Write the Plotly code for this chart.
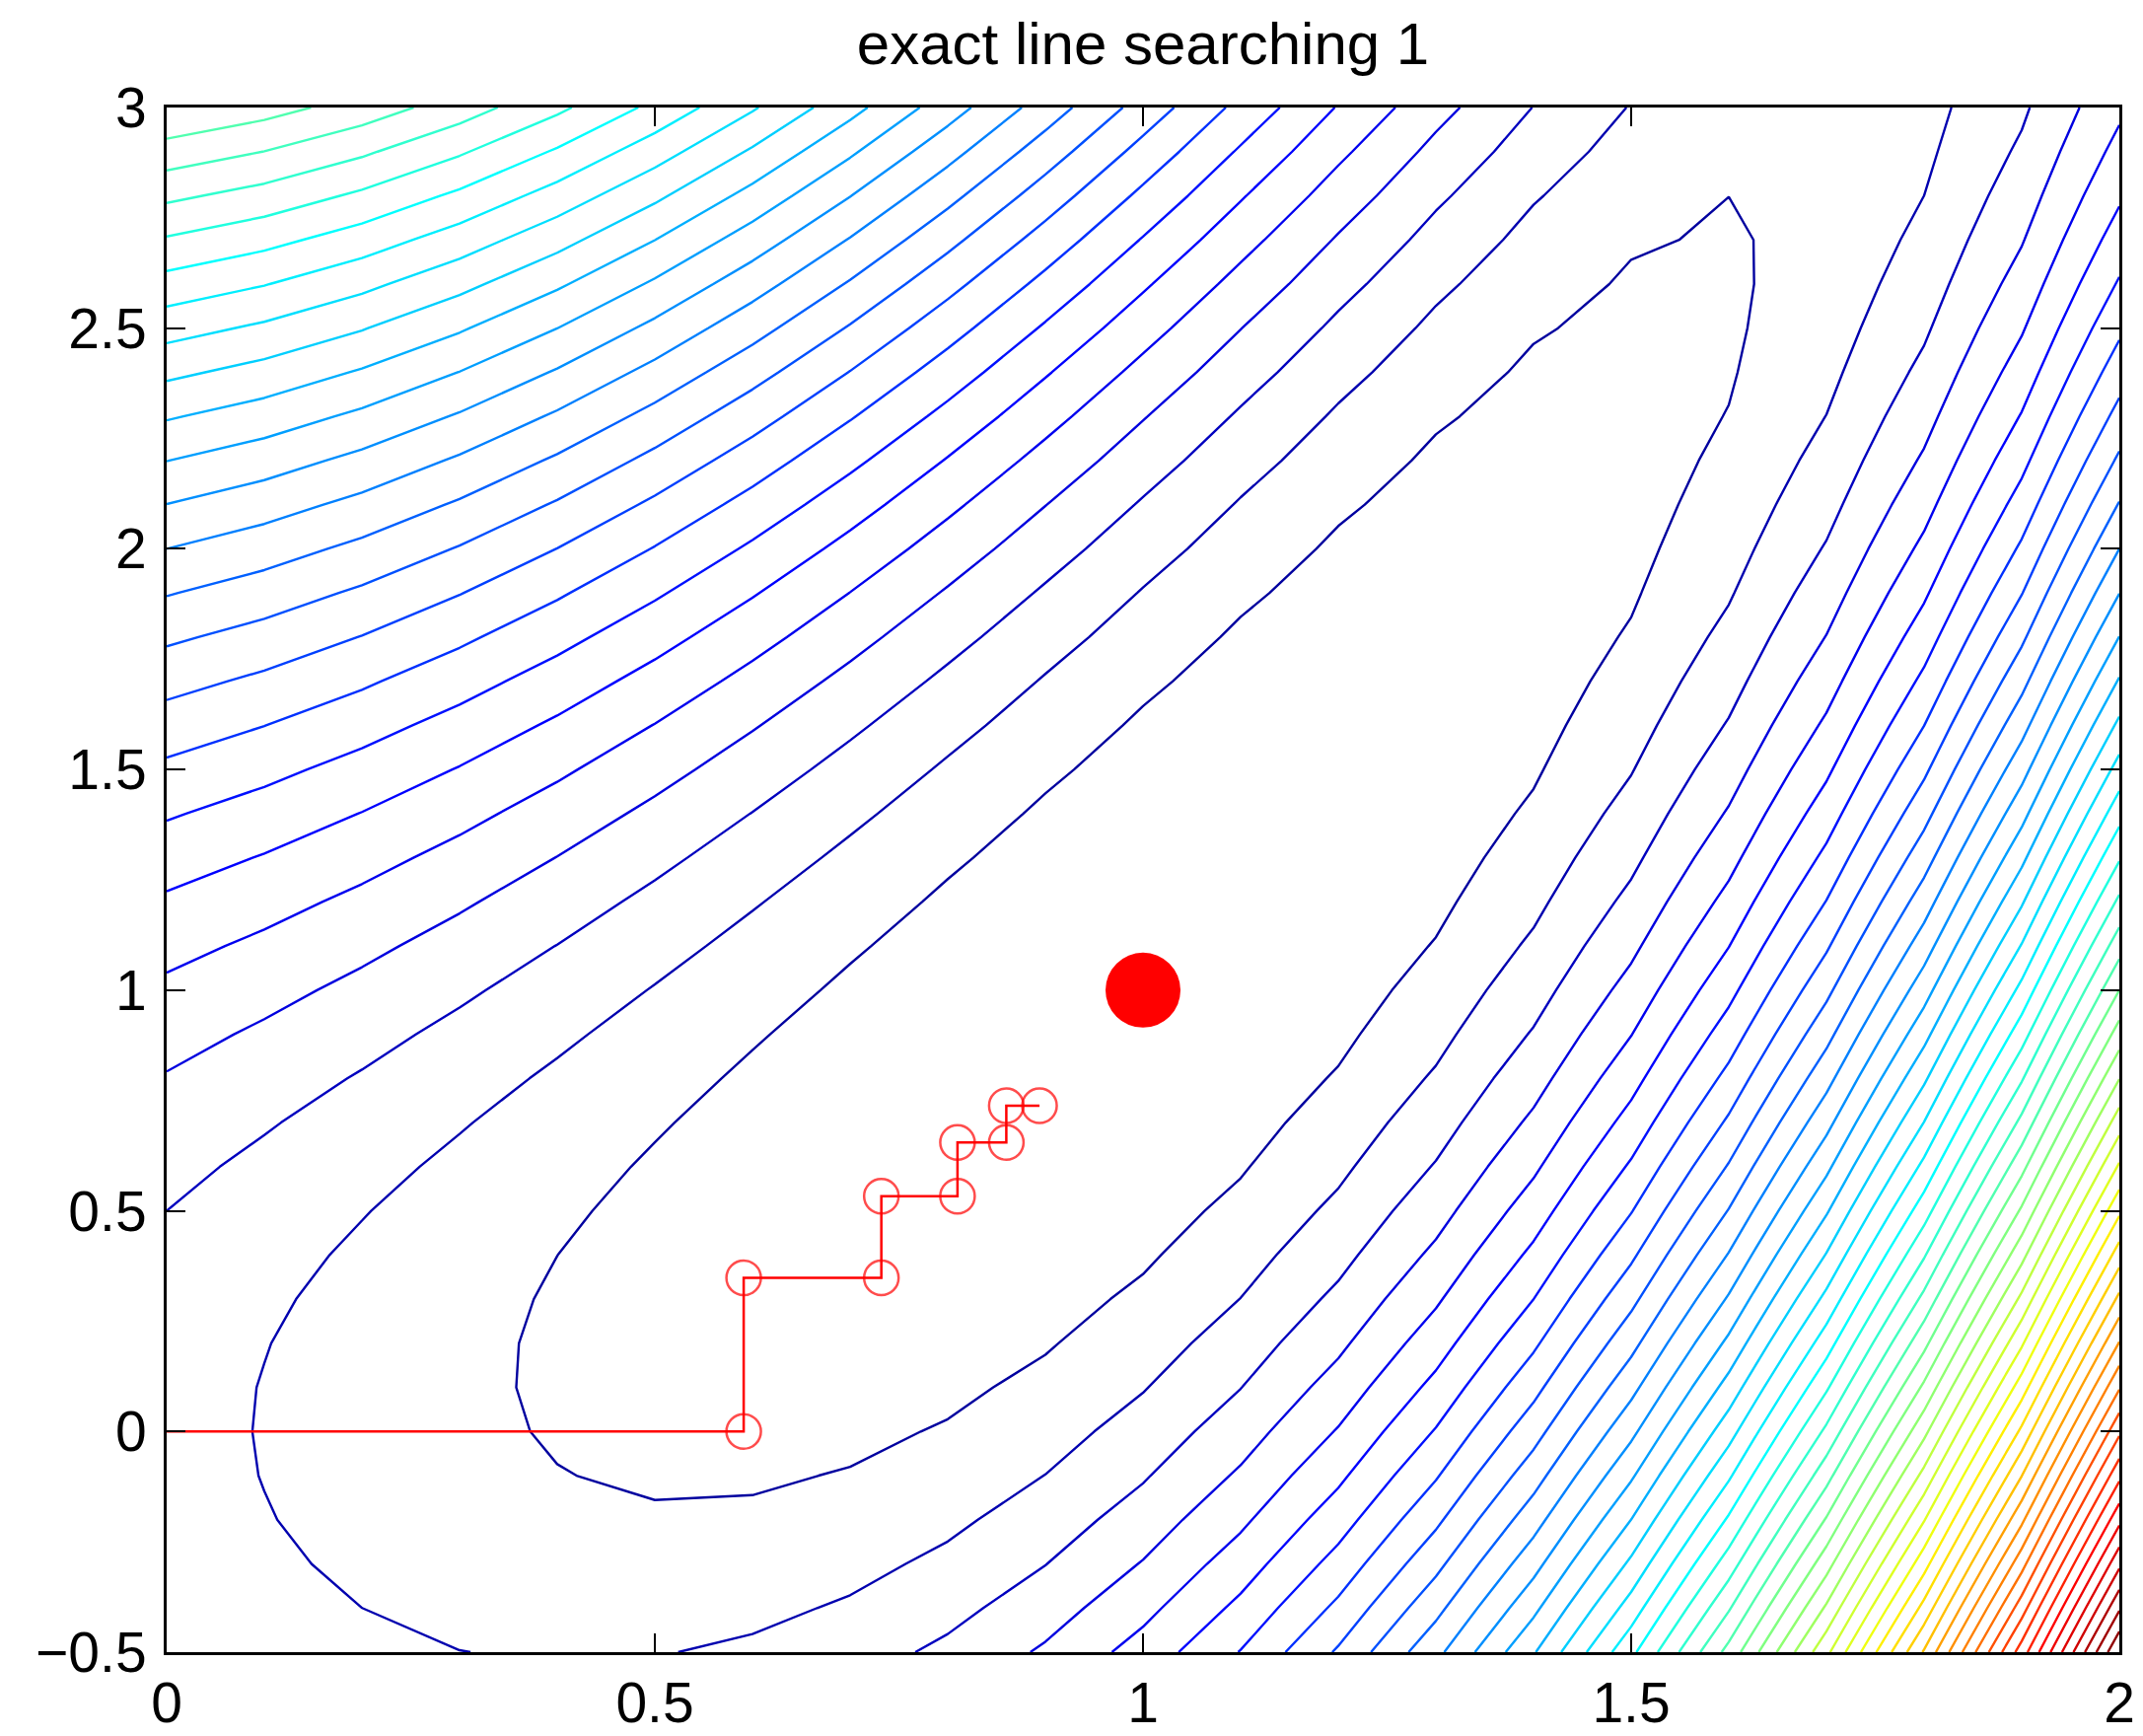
import numpy as np
import plotly.graph_objects as go

# grid of the contour plot (as in the original meshgrid)
x_grid = np.round(np.arange(0, 2.0001, 0.1), 10)
y_grid = np.round(np.arange(-0.5, 3.0001, 0.1), 10)

# objective: f(x, y) = (1 - x)^2 + (y - x^2)^2
X, Y = np.meshgrid(x_grid, y_grid)
Z = (1 - X) ** 2 + (Y - X ** 2) ** 2

# coordinate-descent path
path_x = [0.0, 0.591, 0.591, 0.732, 0.732, 0.810, 0.810, 0.860, 0.860, 0.894]
path_y = [0.0, 0.0, 0.348, 0.348, 0.533, 0.533, 0.655, 0.655, 0.738, 0.738]

# optimum
opt_x = [1.0]
opt_y = [1.0]

x_ticks = [0, 0.5, 1, 1.5, 2]
y_ticks = [-0.5, 0, 0.5, 1, 1.5, 2, 2.5, 3]

n_levels = 50


def jet64(i):
    # MATLAB jet colormap, 64 entries, i in 1..64
    t = 4.0 * i / 64

    def c(v):
        return max(0.0, min(1.0, v))
    r = c(min(t - 1.5, -t + 4.5))
    g = c(min(t - 0.5, -t + 3.5))
    b = c(min(t + 0.5, -t + 2.5))
    return "rgb(%d,%d,%d)" % (round(r * 255), round(g * 255), round(b * 255))


zmin = float(Z.min())
zmax = float(Z.max())
levels = np.linspace(zmin, zmax, n_levels + 2)[1:-1]

fig = go.Figure()
for L in levels:
    idx = int(np.floor((L - zmin) / (zmax - zmin) * 64)) + 1
    idx = max(1, min(64, idx))
    fig.add_trace(go.Contour(
        x=x_grid, y=y_grid, z=Z,
        autocontour=False,
        contours=dict(start=L, end=L, size=1, coloring="none"),
        line=dict(width=2.4, smoothing=0, color=jet64(idx)),
        showscale=False, hoverinfo="skip",
    ))

fig.add_trace(go.Scatter(
    x=path_x, y=path_y, mode="lines+markers",
    line=dict(color="red", width=2.5),
    marker=dict(symbol="circle-open", color="red", size=[0] + [35] * (len(path_x) - 1),
                line=dict(color="red", width=2.5)),
    showlegend=False,
))
fig.add_trace(go.Scatter(
    x=opt_x, y=opt_y, mode="markers",
    marker=dict(color="red", size=76, line=dict(width=0)),
    showlegend=False,
))

font_family = "Liberation Sans, Arial, Helvetica, sans-serif"
axis_common = dict(
    showgrid=False, zeroline=False, showline=True, linecolor="black", linewidth=3,
    mirror="ticks", ticks="inside", ticklen=19, tickwidth=2, tickcolor="black",
    automargin=False,
    tickfont=dict(family=font_family, size=57, color="black"),
)
fig.update_xaxes(range=[0, 2], tickvals=x_ticks, **axis_common)
fig.update_yaxes(range=[-0.5, 3], tickvals=y_ticks, ticklabelstandoff=6, **axis_common)

fig.update_layout(
    width=2173, height=1760,
    margin=dict(l=161, r=32, t=101, b=93),
    plot_bgcolor="white", paper_bgcolor="white",
    title=dict(text="exact line searching 1", x=1151 / 2173, xanchor="center",
               y=1 - 36 / 1760, yanchor="middle", yref="container",
               font=dict(family=font_family, size=60, color="black")),
    showlegend=False,
)

fig.write_html("out.html")
